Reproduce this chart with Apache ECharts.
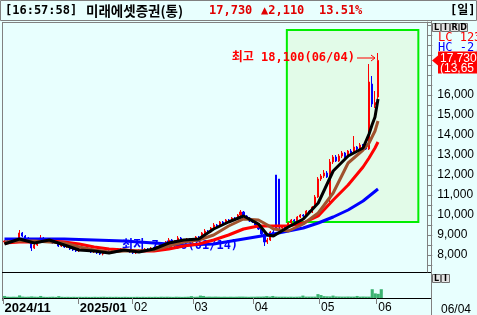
<!DOCTYPE html>
<html><head><meta charset="utf-8">
<script src="https://cdn.jsdelivr.net/npm/echarts@6/dist/echarts.min.js"></script>
<style>html,body{margin:0;padding:0;background:#e8fffe;overflow:hidden}#c{width:477px;height:315px}</style>
</head><body><div id="c"></div>
<script>
// ---- data ----
const dates = [
'2024/11/25','2024/11/26','2024/11/27','2024/11/28','2024/11/29',
'2024/12/02','2024/12/03','2024/12/04','2024/12/05','2024/12/06','2024/12/09','2024/12/10','2024/12/11','2024/12/12','2024/12/13','2024/12/16','2024/12/17','2024/12/18','2024/12/19','2024/12/20','2024/12/23','2024/12/24','2024/12/26','2024/12/27','2024/12/30',
'2025/01/02','2025/01/03','2025/01/06','2025/01/07','2025/01/08','2025/01/09','2025/01/10','2025/01/13','2025/01/14','2025/01/15','2025/01/16','2025/01/17','2025/01/20','2025/01/21','2025/01/22','2025/01/23','2025/01/24','2025/01/31',
'2025/02/03','2025/02/04','2025/02/05','2025/02/06','2025/02/07','2025/02/10','2025/02/11','2025/02/12','2025/02/13','2025/02/14','2025/02/17','2025/02/18','2025/02/19','2025/02/20','2025/02/21','2025/02/24','2025/02/25','2025/02/26','2025/02/27','2025/02/28',
'2025/03/04','2025/03/05','2025/03/06','2025/03/07','2025/03/10','2025/03/11','2025/03/12','2025/03/13','2025/03/14','2025/03/17','2025/03/18','2025/03/19','2025/03/20','2025/03/21','2025/03/24','2025/03/25','2025/03/26','2025/03/27','2025/03/28','2025/03/31',
'2025/04/01','2025/04/02','2025/04/03','2025/04/04','2025/04/07','2025/04/08','2025/04/09','2025/04/10','2025/04/11','2025/04/14','2025/04/15','2025/04/16','2025/04/17','2025/04/18','2025/04/21','2025/04/22','2025/04/23','2025/04/24','2025/04/25','2025/04/28','2025/04/29','2025/04/30',
'2025/05/02','2025/05/07','2025/05/08','2025/05/09','2025/05/12','2025/05/13','2025/05/14','2025/05/15','2025/05/16','2025/05/19','2025/05/20','2025/05/21','2025/05/22','2025/05/23','2025/05/26','2025/05/27','2025/05/28','2025/05/29','2025/05/30',
'2025/06/02','2025/06/04'];

const opens = [
8650,8700,8600,8750,8650, 8800,9100,8950,8850,8700,8350,8500,8650,8850,8750,8800,8700,8600,8650,8450,8500,8400,8450,8300,8250,
8200,8300,8250,8350,8200,8150,8250,8100,8050,8150,8200,8150,8250,8200,8300,8250,8200,8250,
8150,8100,8200,8250,8200,8300,8250,8350,8300,8400,8550,8500,8650,8750,8650,8700,8850,8750,8700,8800,
8650,8800,8900,8850,9100,9200,9150,9350,9500,9450,9650,9600,9750,9700,9850,9800,10000,10150,9950,9850,
9700,9650,9500,9300,9050,8650,8750,9150,12000,11800,9350,9400,9400,9600,9750,9700,9900,10000,9950,10200,10150,10400,
10900,11800,11950,12100,10800,12650,12900,12700,12950,13100,12900,13200,13100,13400,13300,13500,13350,13300,16550,
15500,15900];
const closes = [
8700,8600,8750,8650,8800, 9100,8950,8850,8700,8350,8500,8650,8850,8750,8800,8700,8600,8650,8450,8500,8400,8450,8300,8250,8200,
8300,8250,8350,8200,8150,8250,8100,8050,8150,8200,8150,8250,8200,8300,8250,8200,8250,8150,
8100,8200,8250,8200,8300,8250,8350,8300,8400,8550,8500,8650,8750,8650,8700,8850,8750,8700,8800,8650,
8800,8900,8850,9100,9200,9150,9350,9500,9450,9650,9600,9750,9700,9850,9800,10000,10150,9950,9850,9700,
9650,9500,9300,9050,8650,8750,9150,9100,9350,9400,9400,9350,9600,9750,9700,9900,10000,9950,10200,10150,10400,10900,
11800,11950,12100,11900,12650,12900,12700,12950,13100,12900,13200,13100,13400,13300,13500,13350,13300,16650,15550,
15620,17730];
const lows = [
8550,8550,8550,8600,8600, 8750,8900,8800,8650,8200,8300,8450,8600,8700,8700,8650,8550,8550,8400,8400,8350,8350,8250,8200,8150,
8150,8200,8200,8150,8100,8100,8050,8000,7980,8100,8100,8100,8150,8150,8200,8150,8150,8100,
8050,8050,8150,8150,8150,8200,8200,8250,8250,8350,8450,8450,8600,8600,8600,8650,8700,8650,8650,8600,
8600,8750,8800,8800,9050,9100,9100,9300,9400,9400,9550,9550,9650,9650,9750,9750,9950,9900,9800,9650,
9600,9450,9250,9000,8450,8550,8700,9000,9300,9300,9300,9300,9350,9550,9650,9650,9850,9900,9900,10100,10100,10350,
10850,11700,11850,11850,10650,12550,12650,12650,12850,12850,12850,13050,13050,13250,13250,13300,13250,13250,15400,
15350,15800];
const highs = [
8750,8750,8800,8800,8850, 9250,9150,9000,8900,8750,8550,8700,9000,8900,8850,8850,8750,8700,8700,8550,8550,8500,8500,8350,8300,
8350,8350,8400,8400,8250,8300,8300,8150,8200,8250,8250,8300,8300,8350,8350,8300,8300,8300,
8200,8250,8300,8300,8350,8350,8400,8400,8450,8600,8600,8700,8850,8800,8750,8950,8900,8800,8850,8850,
8850,8950,8950,9150,9300,9250,9400,9600,9550,9700,9700,9800,9800,9900,9900,10050,10250,10200,10000,9900,
9750,9700,9550,9350,9050,8850,9200,9250,12000,11800,9450,9450,9650,9800,9800,9950,10050,10050,10250,10250,10450,11000,
11900,12050,12250,12200,12800,13000,13000,13050,13200,13150,13250,13300,13950,13450,13600,13550,13450,17550,16950,
16200,18100];
const volumes = [
22,14,13,14,13,28,15,13,14,17,14,13,22,13,12,13,14,12,20,13,12,13,12,13,12,
13,12,13,12,12,13,12,13,14,12,13,12,13,12,12,13,12,12,
12,13,12,13,12,13,12,13,12,14,13,14,13,12,14,13,12,13,14,20,
13,14,26,22,14,15,14,15,14,13,14,13,14,13,14,15,15,14,13,14,
14,15,15,16,20,15,22,15,14,14,14,13,14,13,14,15,26,15,15,15,15,42,
32,20,18,17,26,17,16,15,15,16,15,15,22,15,16,15,15,95,50,
45,95];

const maIdx = [0,5,10,15,20,25,30,35,40,45,50,55,60,65,70,75,80,85,88,90,95,100,105,110,115,120,122,123,124,125];
const ma5  = [8550,8800,8600,8750,8500,8250,8200,8100,8250,8150,8300,8600,8750,8800,9300,9650,9950,9550,9000,8950,9400,9800,10600,12200,12950,13350,14050,14500,14900,15800];
const ma10 = [8650,8700,8700,8650,8600,8400,8250,8150,8200,8200,8250,8450,8650,8750,9000,9450,9800,9750,9500,9300,9200,9550,10100,11100,12600,13250,13600,13900,14200,14700];
const ma20 = [8600,8650,8650,8700,8650,8550,8400,8300,8250,8200,8200,8300,8450,8550,8750,9000,9300,9450,9450,9450,9450,9600,9950,10750,11500,12400,12850,13100,13350,13650];
const ma60Idx = [0,10,20,30,40,50,60,70,80,90,95,100,105,110,115,120,125];
const ma60 = [8800,8800,8800,8750,8700,8600,8500,8550,8800,9050,9200,9350,9600,9900,10250,10700,11300];

const priceLabels = [8000,9000,10000,11000,12000,13000,14000,15000,16000];
const priceTicks = [7500,8000,8500,9000,9500,10000,10500,11000,11500,12000,12500,13000,13500,14000,14500,15000,15500,16000,16500,17000,17500,18000,18500,19000,19500];
const monthStarts = ['2024/11/25','2025/01/02','2025/02/03','2025/03/04','2025/04/01','2025/05/02','2025/06/02'];
const monthLabels = ['2024/11','2025/01','02','03','04','05','06'];

const hiIdx = 125, hiVal = 18100, hiText = '최고 18,100(06/04)';
const loIdx = 33, loVal = 7980, loText = '최저 7,980(01/14)';
const boxIdx = [95, 138], boxVals = [19250, 9650];
const lastClose = 17730;

// ---- chart ----
const SLOTS = 142;
const cats = dates.concat(Array.from({length: SLOTS - dates.length}, (_, k) => '+' + (k + 1)));
const candleData = dates.map((d, i) => [opens[i], closes[i], lows[i], highs[i]]);
const pair = (idx, vals) => idx.map((x, i) => [x, vals[i]]);
const mono = '"DejaVu Sans Mono","Noto Sans CJK KR",monospace';
const isStart = (v) => monthStarts.indexOf(v) >= 0;

const chart = echarts.init(document.getElementById('c'), null, {renderer: 'canvas', width: 477, height: 315});
const option = {
  backgroundColor: '#e8fffe',
  animation: false,
  grid: [
    {left: 3, right: 46, top: 22, height: 250},
    {left: 3, right: 46, top: 273, height: 27}
  ],
  xAxis: [
    {type: 'category', gridIndex: 0, data: cats, boundaryGap: true,
     axisLine: {show: false}, axisTick: {show: false}, axisLabel: {show: false}, splitLine: {show: false}},
    {type: 'category', gridIndex: 1, data: cats, boundaryGap: true,
     axisLine: {show: true, lineStyle: {color: '#000', width: 1}},
     axisTick: {show: true, interval: (i, v) => isStart(v), length: 6, lineStyle: {color: '#808080'}},
     axisLabel: {show: true, interval: (i, v) => isStart(v), align: 'left', margin: 4,
       fontFamily: 'Liberation Sans', fontSize: 12, color: '#000',
       formatter: (v) => { const k = monthStarts.indexOf(v); if (k < 0) return ''; return k < 2 ? '{b|' + monthLabels[k] + '}' : monthLabels[k]; },
       rich: {b: {fontWeight: 'bold', fontFamily: 'Liberation Sans', fontSize: 13, color: '#000'}}},
     splitLine: {show: false}}
  ],
  yAxis: [
    {type: 'value', gridIndex: 0, position: 'right', min: 7150, max: 19650, scale: true,
     axisLine: {show: true, lineStyle: {color: '#808080'}},
     axisTick: {show: true, customValues: priceTicks, length: 5, lineStyle: {color: '#808080'}},
     axisLabel: {show: true, customValues: priceLabels, margin: 10, color: '#000', fontFamily: 'Liberation Sans', fontSize: 12,
       formatter: (v) => v.toLocaleString('en-US')},
     splitLine: {show: false}},
    {type: 'value', gridIndex: 1, min: 0, max: 270, show: false}
  ],
  series: [
    {type: 'candlestick', xAxisIndex: 0, yAxisIndex: 0, data: candleData, barWidth: 1.6, z: 2,
     itemStyle: {color: '#ff0000', color0: '#0000ff', borderColor: '#ff0000', borderColor0: '#0000ff', borderWidth: 1}},
    {type: 'line', xAxisIndex: 0, yAxisIndex: 0, data: pair(ma60Idx, ma60), symbol: 'none', z: 3,
     lineStyle: {color: '#0000ff', width: 3}},
    {type: 'line', xAxisIndex: 0, yAxisIndex: 0, data: pair(maIdx, ma20), symbol: 'none', z: 4,
     lineStyle: {color: '#ff0000', width: 3}},
    {type: 'line', xAxisIndex: 0, yAxisIndex: 0, data: pair(maIdx, ma10), symbol: 'none', z: 5,
     lineStyle: {color: '#a0522d', width: 3}},
    {type: 'line', xAxisIndex: 0, yAxisIndex: 0, data: pair(maIdx, ma5), symbol: 'none', z: 6,
     lineStyle: {color: '#000000', width: 3}},
    {type: 'bar', xAxisIndex: 1, yAxisIndex: 1, data: volumes, barWidth: 3.1, itemStyle: {color: '#3cb371'}}
  ]
};
chart.setOption(option);

// ---- overlays positioned through the axes ----
const px = (i, v) => chart.convertToPixel({gridIndex: 0}, [i, v]);
const bw = (431 - 3) / SLOTS;
const b1 = px(boxIdx[0], boxVals[0]), b2 = px(boxIdx[1], boxVals[1]);
const hp = px(hiIdx, hiVal), lp = px(loIdx, loVal), cp = px(hiIdx, lastClose);
const g = [];
// title bar
g.push({type: 'rect', shape: {x: 0.5, y: 0.5, width: 476, height: 20}, style: {fill: '#e8fffe', stroke: '#808080', lineWidth: 1}});
const tf = 'bold 12px ' + mono;
const title = [
  ['[16:57:58]', 5, '#000', tf],
  ['미래에셋증권(통)', 86, '#000', 'bold 13.5px "Noto Sans CJK KR"'],
  ['17,730', 209, '#e00000', tf],
  ['▲2,110', 261, '#e00000', tf],
  ['13.51%', 319, '#e00000', tf],
  ['[일]', 450, '#000', 'bold 12px ' + mono]
];
title.forEach(t => g.push({type: 'text', style: {text: t[0], x: t[1], y: 11, fill: t[2], font: t[3], textVerticalAlign: 'middle'}}));
// pane frame
g.push({type: 'line', shape: {x1: 2, y1: 22.5, x2: 431, y2: 22.5}, style: {stroke: '#808080', lineWidth: 1}});
g.push({type: 'line', shape: {x1: 2.5, y1: 22, x2: 2.5, y2: 301}, style: {stroke: '#808080', lineWidth: 1}});
g.push({type: 'line', shape: {x1: 2, y1: 272.5, x2: 431, y2: 272.5}, style: {stroke: '#000', lineWidth: 1}});
g.push({type: 'line', shape: {x1: 431.5, y1: 21, x2: 431.5, y2: 315}, style: {stroke: '#808080', lineWidth: 1}});
// green selection box
g.push({type: 'rect', z: 0, shape: {x: b1[0] - bw / 2, y: b1[1], width: b2[0] - b1[0] + bw, height: b2[1] - b1[1]},
  style: {fill: '#e2fbe8', stroke: '#00ee00', lineWidth: 2}});
// high / low annotations
const hy = hp[1] + 5;
g.push({type: 'text', style: {text: hiText, x: hp[0] - 23, y: hy, fill: '#ff0000', font: 'bold 12px ' + mono, textAlign: 'right', textVerticalAlign: 'middle'}});
g.push({type: 'polyline', shape: {points: [[hp[0] - 21, hy], [hp[0] - 3, hy]]}, style: {stroke: '#ff0000', lineWidth: 1}});
g.push({type: 'polyline', shape: {points: [[hp[0] - 7, hy - 3], [hp[0] - 3, hy], [hp[0] - 7, hy + 3]]}, style: {stroke: '#ff0000', lineWidth: 1, fill: 'none'}});
g.push({type: 'text', style: {text: loText, x: lp[0] + 19, y: lp[1] - 10, fill: '#0000ff', font: 'bold 12px ' + mono, textVerticalAlign: 'middle'}});
// right-side widgets
['L', 'I', 'R', 'D'].forEach((c, k) => {
  g.push({type: 'rect', shape: {x: 432.5 + k * 9, y: 23.5, width: 8, height: 8}, style: {fill: '#e4e4e4', stroke: '#707070', lineWidth: 1}});
  g.push({type: 'text', style: {text: c, x: 436.5 + k * 9, y: 28, fill: '#000', font: 'bold 8px "DejaVu Sans"', textAlign: 'center', textVerticalAlign: 'middle'}});
});
['L', 'I'].forEach((c, k) => {
  g.push({type: 'rect', shape: {x: 432.5 + k * 9, y: 274.5, width: 8, height: 8}, style: {fill: '#e4e4e4', stroke: '#707070', lineWidth: 1}});
  g.push({type: 'text', style: {text: c, x: 436.5 + k * 9, y: 279, fill: '#000', font: 'bold 8px "DejaVu Sans"', textAlign: 'center', textVerticalAlign: 'middle'}});
});
g.push({type: 'text', style: {text: 'LC 123,050', x: 438, y: 38, fill: '#ff0000', font: '12px ' + mono, textVerticalAlign: 'middle'}});
g.push({type: 'text', style: {text: 'HC -2,110', x: 438, y: 48, fill: '#0000ff', font: '12px ' + mono, textVerticalAlign: 'middle'}});
g.push({type: 'polygon', shape: {points: [[432, cp[1]], [438, cp[1] - 5], [438, cp[1] + 5]]}, style: {fill: '#ff0000'}});
g.push({type: 'rect', shape: {x: 438, y: cp[1] - 9, width: 40, height: 22}, style: {fill: '#ff0000'}});
g.push({type: 'text', style: {text: '17,730', x: 440, y: cp[1] - 2, fill: '#fff', font: '12px "Liberation Sans"', textVerticalAlign: 'middle'}});
g.push({type: 'text', style: {text: '(13,65', x: 440, y: cp[1] + 8, fill: '#fff', font: '12px "Liberation Sans"', textVerticalAlign: 'middle'}});
g.push({type: 'text', style: {text: dates[dates.length - 1].slice(5), x: 441, y: 310, fill: '#000', font: '12px "Liberation Sans"', textVerticalAlign: 'middle'}});
chart.setOption({graphic: g});
</script></body></html>
